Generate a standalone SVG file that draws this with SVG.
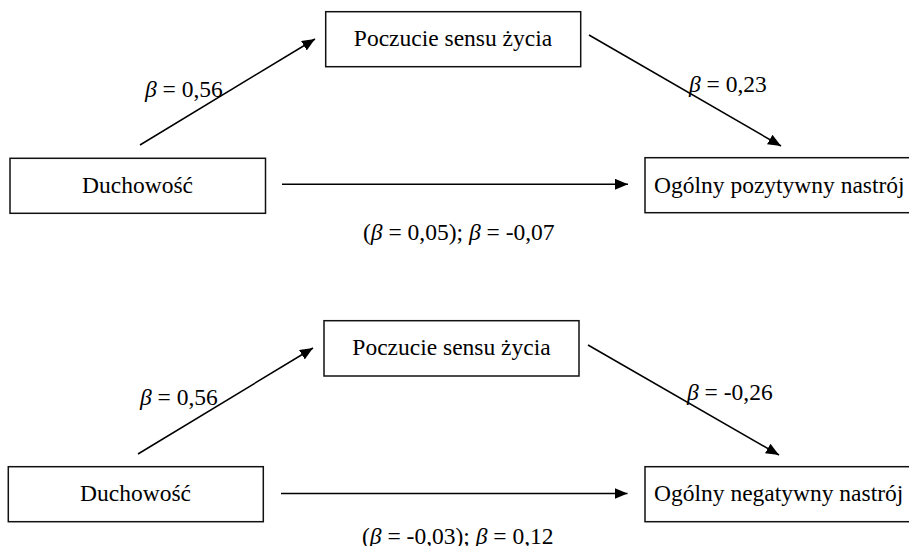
<svg xmlns="http://www.w3.org/2000/svg" width="909" height="546" viewBox="0 0 909 546">
<style>
  .box { fill: #fff; stroke: #111; stroke-width: 1.5; }
  .lbl { font-family: 'Liberation Serif', 'Times New Roman', Times, serif; font-size: 23.5px; fill: #000; }
  .mid { text-anchor: middle; }
  .conn { stroke: #000; stroke-width: 1.5; fill: none; marker-end: url(#ah); }
  .it { font-style: italic; }
</style>
<defs>
  <marker id="ah" markerUnits="userSpaceOnUse" markerWidth="14" markerHeight="12" refX="13" refY="5.5" orient="auto">
    <path d="M0,0 L13,5.5 L0,11 Z" fill="#000"/>
  </marker>
</defs>
<rect width="909" height="546" fill="#fff"/>

<g id="connectors">
  <line class="conn" x1="140" y1="145" x2="315" y2="39"/>
  <line class="conn" x1="589" y1="35" x2="781" y2="146"/>
  <line class="conn" x1="282" y1="184.3" x2="628" y2="184.3"/>
  <line class="conn" x1="138" y1="454" x2="313" y2="348"/>
  <line class="conn" x1="588" y1="345" x2="779" y2="455"/>
  <line class="conn" x1="281" y1="493.5" x2="627.5" y2="493.5"/>
</g>

<g id="labels">
  <text class="lbl" x="145" y="97"><tspan class="it">β</tspan> = 0,56</text>
  <text class="lbl" x="689" y="92"><tspan class="it">β</tspan> = 0,23</text>
  <text class="lbl" x="363" y="240"><tspan>(</tspan><tspan class="it">β</tspan> = 0,05); <tspan class="it">β</tspan> = -0,07</text>
  <text class="lbl" x="140" y="405"><tspan class="it">β</tspan> = 0,56</text>
  <text class="lbl" x="687" y="400"><tspan class="it">β</tspan> = -0,26</text>
  <text class="lbl" x="362" y="544"><tspan>(</tspan><tspan class="it">β</tspan> = -0,03); <tspan class="it">β</tspan> = 0,12</text>
</g>

<g id="duchowosc-1">
  <rect class="box" x="10" y="158.3" width="255.5" height="55"/>
  <text class="lbl mid" x="137.5" y="193">Duchowość</text>
</g>
<g id="poczucie-1">
  <rect class="box" x="325.7" y="11.7" width="255" height="55"/>
  <text class="lbl mid" x="453" y="46">Poczucie sensu życia</text>
</g>
<g id="ogolny-pozytywny">
  <rect class="box" x="645" y="157.7" width="275" height="55"/>
  <text class="lbl" x="654" y="192.5">Ogólny pozytywny nastrój</text>
</g>

<g id="duchowosc-2">
  <rect class="box" x="8.3" y="466.7" width="255" height="55"/>
  <text class="lbl mid" x="135.5" y="501">Duchowość</text>
</g>
<g id="poczucie-2">
  <rect class="box" x="324" y="320.7" width="255" height="55.3"/>
  <text class="lbl mid" x="451.5" y="355">Poczucie sensu życia</text>
</g>
<g id="ogolny-negatywny">
  <rect class="box" x="645" y="466.7" width="275" height="55"/>
  <text class="lbl" x="654" y="501">Ogólny negatywny nastrój</text>
</g>
</svg>
